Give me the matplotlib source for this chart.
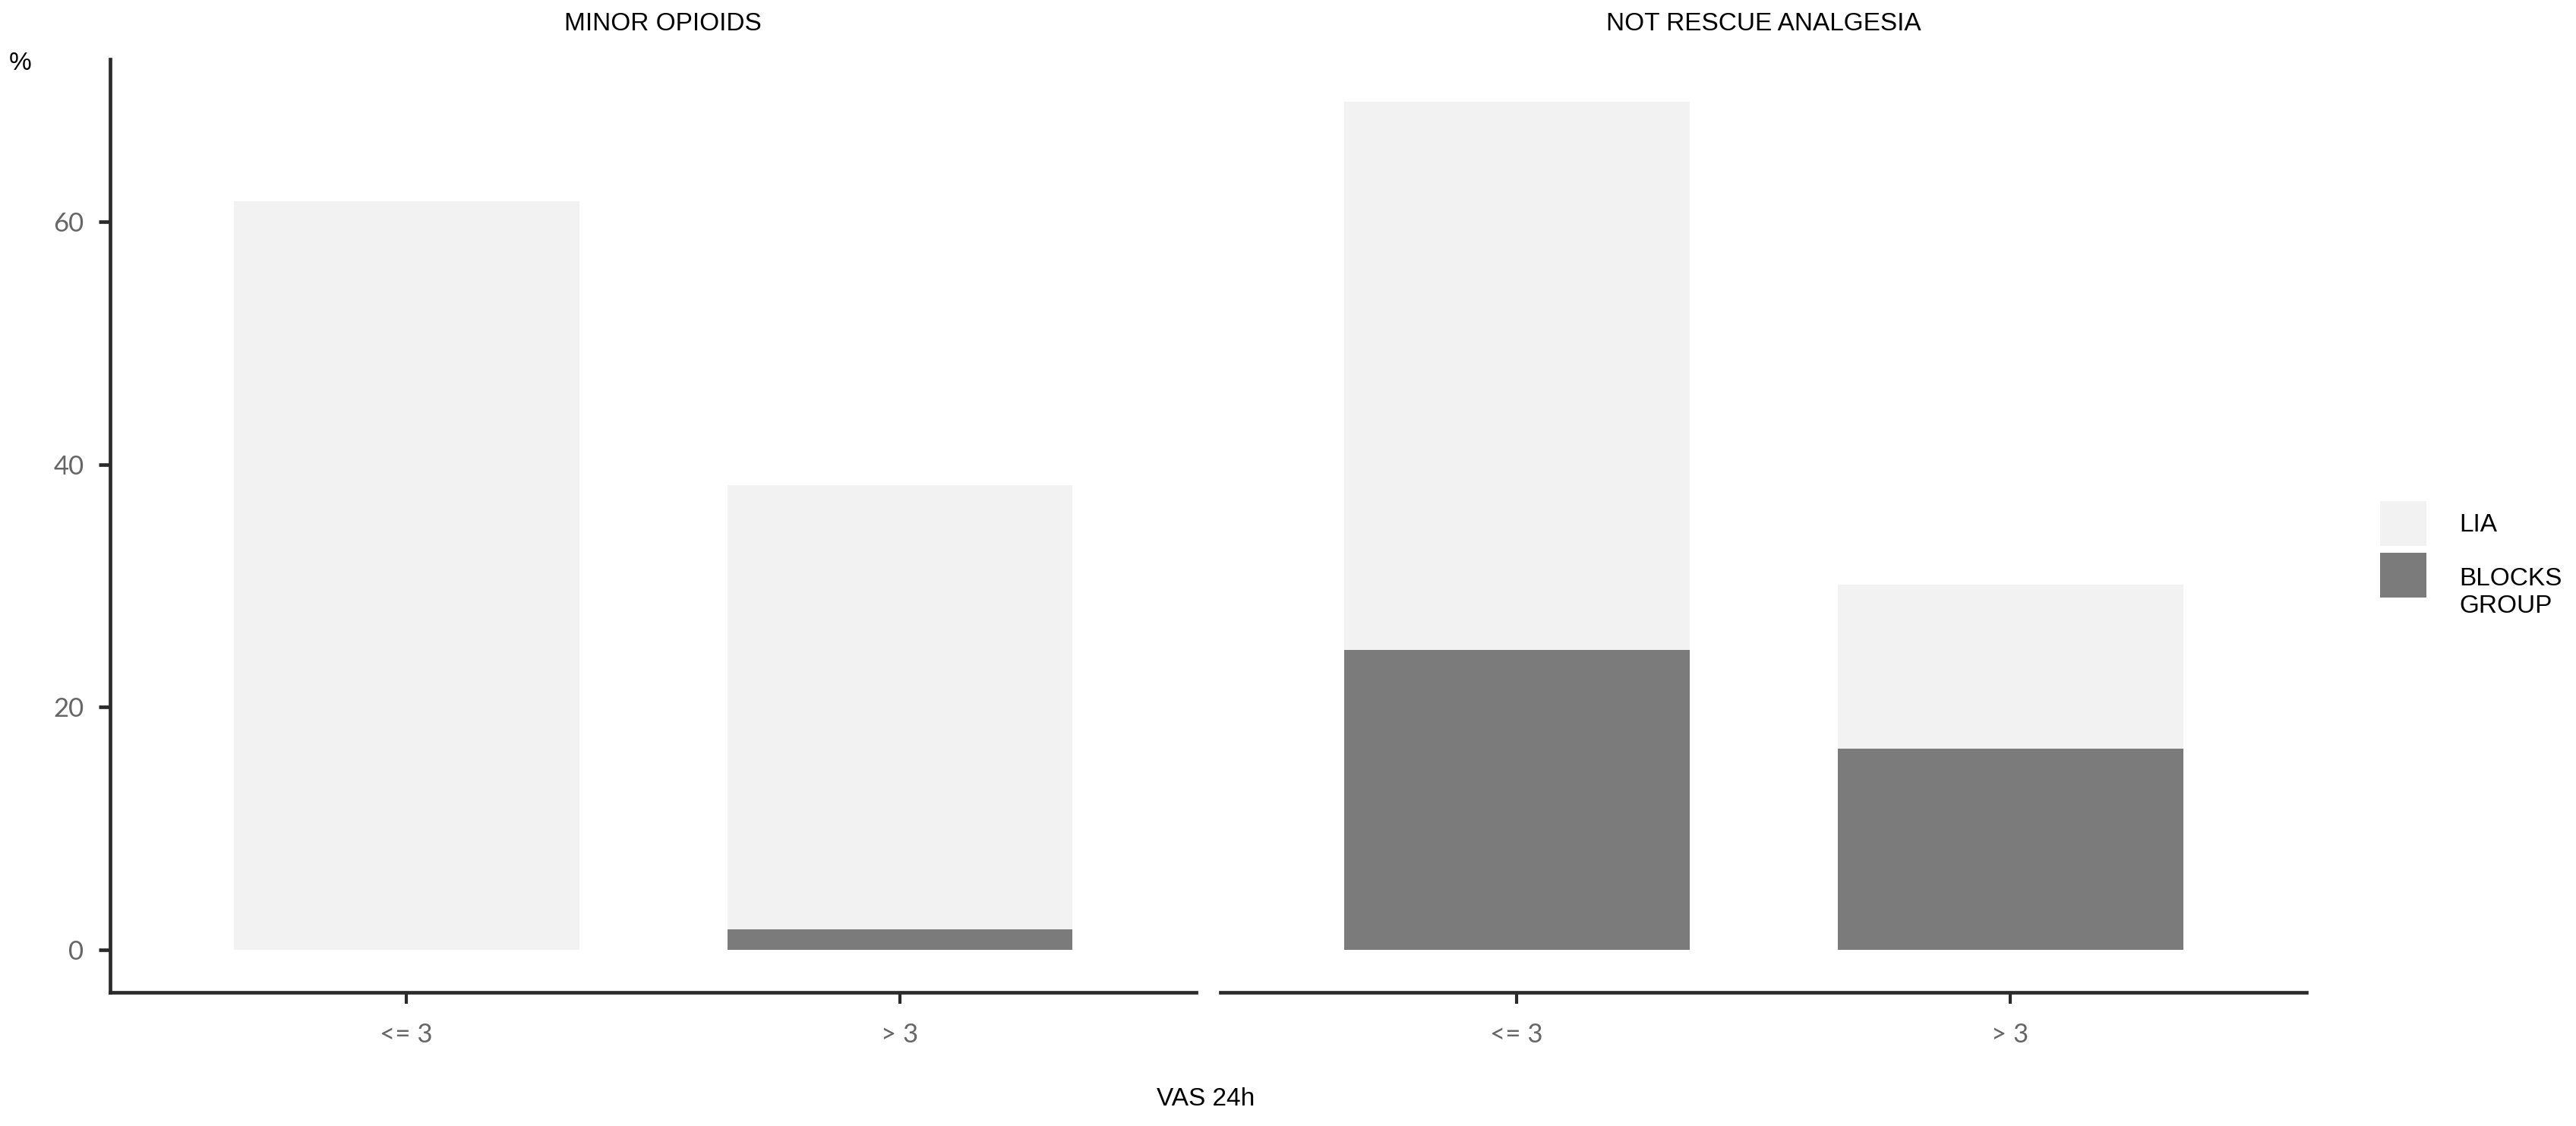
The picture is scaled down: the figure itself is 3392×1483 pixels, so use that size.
import matplotlib
matplotlib.use("Agg")
from matplotlib import pyplot as plt
from matplotlib.patches import Patch
from matplotlib.transforms import ScaledTranslation

plt.rcParams['font.family'] = ['Liberation Sans', 'DejaVu Sans']

# data (% of patients per panel)
panels = ['MINOR OPIOIDS', 'NOT RESCUE ANALGESIA']
vas_groups = ['<= 3', '> 3']
blocks_pct = [[0.0, 1.7], [24.7, 16.6]]   # BLOCKS GROUP, bottom of stack
lia_pct = [[61.7, 36.6], [45.2, 13.5]]    # LIA, on top
group_names = ['LIA', 'BLOCKS\nGROUP']
colors = ['#f2f2f2', '#7b7b7b']

W, H = 3392, 1483
fig = plt.figure(figsize=(W/100, H/100), dpi=100)

totals = [b + l for bp, lp in zip(blocks_pct, lia_pct) for b, l in zip(bp, lp)]
ymax = max(totals)
ylim = (-0.05*ymax, 1.05*ymax)

ax_bot = 1 - 1307/H
ax_h = (1307 - 78)/H
lefts = [145/W, 1607/W]
width = 1430/W
title_dx = [13/W, 0]

tick_font = dict(family=['Lato', 'DejaVu Sans'], size=25, color='#666666')
line_col = '#2b2b2b'

for i, name in enumerate(panels):
    ax = fig.add_axes([lefts[i], ax_bot, width, ax_h])
    x = [1, 2]
    ax.bar(x, blocks_pct[i], width=0.7, color=colors[1], linewidth=0)
    ax.bar(x, lia_pct[i], bottom=blocks_pct[i], width=0.7, color=colors[0], linewidth=0)
    ax.set_xlim(0.4, 2.6)
    ax.set_ylim(*ylim)
    for s in ['top', 'right']:
        ax.spines[s].set_visible(False)
    ax.spines['bottom'].set_color(line_col)
    ax.spines['bottom'].set_linewidth(3.4)
    ax.set_xticks(x)
    ax.set_xticklabels(vas_groups, fontdict=tick_font)
    ax.tick_params(axis='x', length=10.8, width=3.0, color=line_col, pad=18)
    if i == 0:
        ax.spines['left'].set_color(line_col)
        ax.spines['left'].set_linewidth(3.4)
        ax.set_yticks([0, 20, 40, 60])
        ax.set_yticklabels(['0', '20', '40', '60'], fontdict=tick_font)
        ax.tick_params(axis='y', length=10.8, width=3.4, color=line_col, pad=14)
    else:
        ax.spines['left'].set_visible(False)
        ax.set_yticks([])
    fig.text(lefts[i] + width/2 + title_dx[i], 1 - 31/H, name, ha='center', va='center', fontsize=24)

fig.text(27/W, 1 - 84/H, '%', ha='center', va='center', fontsize=24)
fig.text(1588/W, 1 - 1447/H, 'VAS 24h', ha='center', va='center', fontsize=24)

handles = [Patch(facecolor=c, edgecolor='none') for c in colors]
leg = fig.legend(handles, group_names, loc='upper left', bbox_to_anchor=(3134/W, 1 - 660/H),
                 frameon=False, fontsize=24, borderpad=0, borderaxespad=0,
                 handlelength=1.83, handleheight=2.35, handletextpad=1.3, labelspacing=0.1)
# first line of the two-line label sits level with its key, as in ggplot
t = leg.get_texts()[1]
t.set_transform(t.get_transform() + ScaledTranslation(0, -18/72, fig.dpi_scale_trans))

fig.savefig('out.png', dpi=100)
